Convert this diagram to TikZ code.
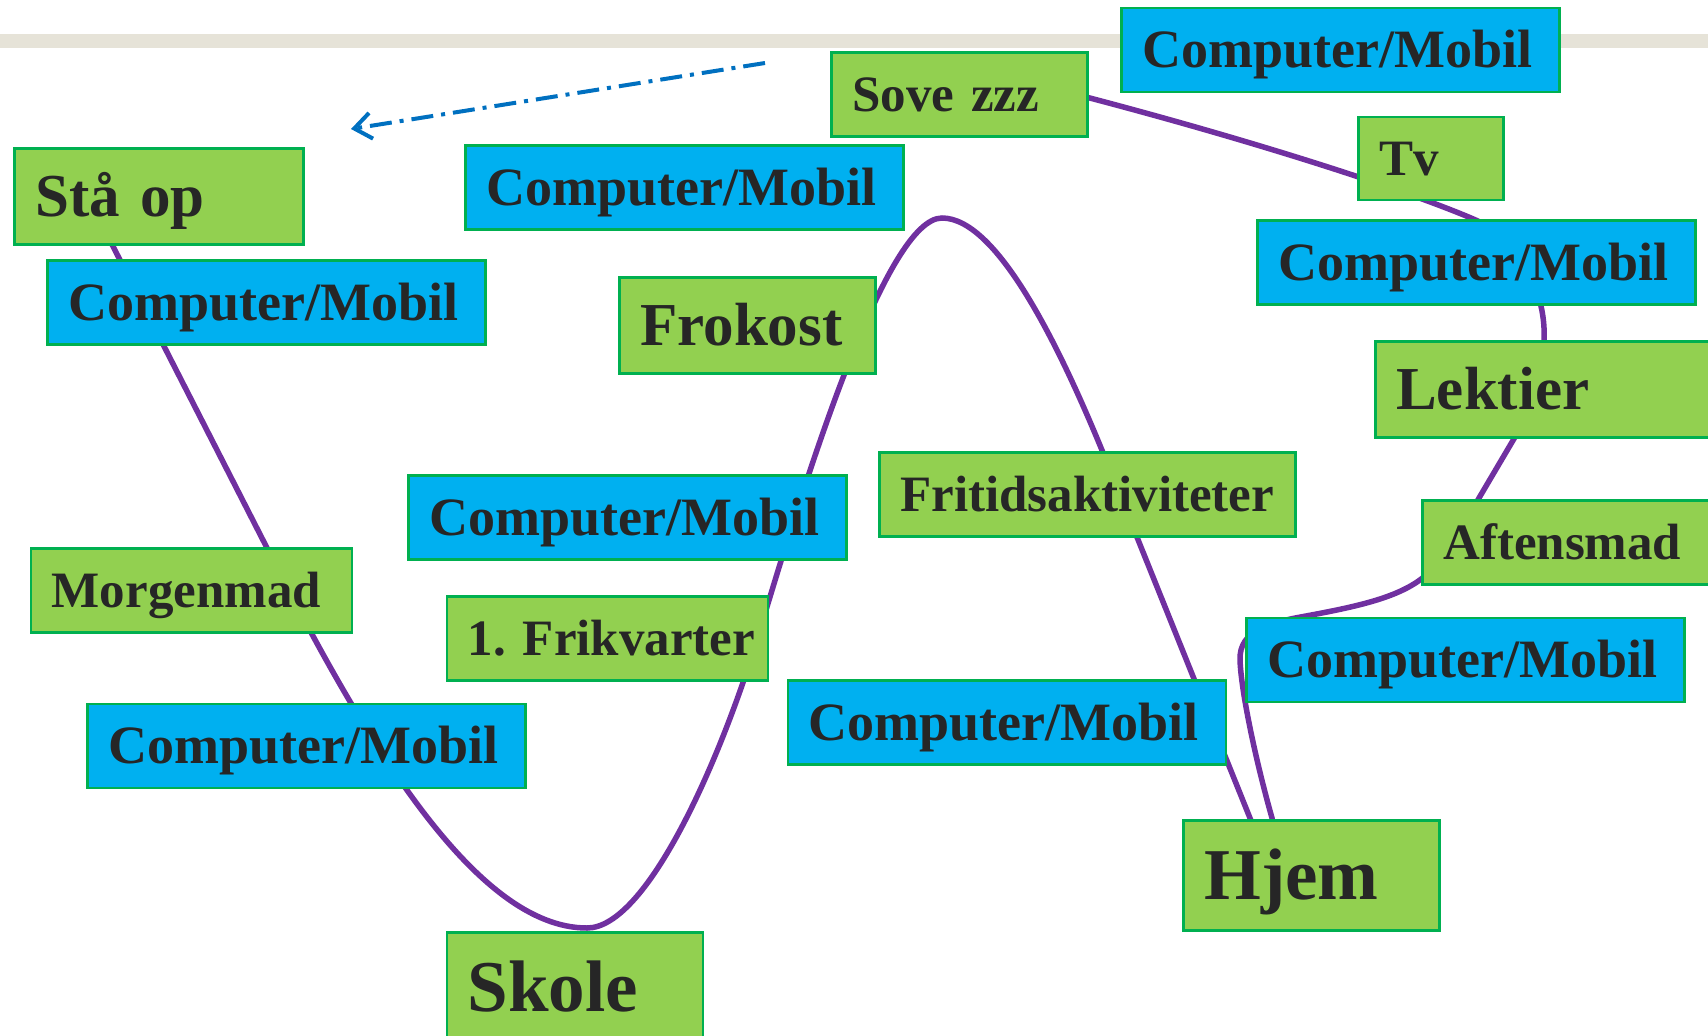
\documentclass[tikz,border=0pt]{standalone}
\usepackage{fontspec}
\setmainfont{Liberation Serif}
\usetikzlibrary{arrows.meta}
\frenchspacing
\definecolor{gfill}{HTML}{92D050}
\definecolor{bfill}{HTML}{00B0F0}
\definecolor{edgec}{HTML}{00B050}
\definecolor{curvec}{HTML}{7030A0}
\definecolor{arrc}{HTML}{0070C0}
\definecolor{bandc}{HTML}{E6E3D8}
\definecolor{ink}{HTML}{262626}
\pgfdeclarelayer{bg}
\pgfsetlayers{bg,main}
\tikzset{
  boxbase/.style={draw=edgec, line width=2.5pt, anchor=north west, inner xsep=21pt, inner ysep=0pt, align=left, text=ink},
  smalltxt/.style={font=\fontsize{51}{58}\selectfont\bfseries, text height=39pt, text depth=5pt},
  bluetxt/.style={font=\fontsize{54}{60}\selectfont\bfseries, text height=41pt, text depth=5pt},
  midtxt/.style={font=\fontsize{61}{70}\selectfont\bfseries, text height=45pt, text depth=5pt},
  bigtxt/.style={font=\fontsize{73}{80}\selectfont\bfseries, text height=53pt, text depth=5pt},
  gbox/.style 2 args={boxbase, fill=gfill, text width=#1, minimum height=#2},
  bbox/.style={boxbase, fill=bfill, text width=396pt, minimum height=84pt, bluetxt},
  timeline/.style={draw=curvec, line width=5.5pt, line cap=round},
  backarrow/.style={draw=arrc, line width=4pt, dash pattern=on 22pt off 8pt on 4pt off 8pt, -{Straight Barb[length=17pt,width=26pt]}}
}
\begin{document}
\begin{tikzpicture}[x=1pt,y=-1pt]
\useasboundingbox (0,0) rectangle (1708,1036);
\clip (0,0) rectangle (1708,1036);

% nodes
\path
  node[bbox] (cm1) at (1120,6.5) {Computer/Mobil}
  node[gbox={214pt}{84pt}, smalltxt] (sove) at (830,51) {Sove zzz}
  node[gbox={247pt}{96pt}, midtxt] (sta) at (13,147) {Stå op}
  node[bbox] (cm2) at (464,144) {Computer/Mobil}
  node[gbox={103pt}{83pt}, smalltxt] (tv) at (1357,115.5) {Tv}
  node[bbox] (cm3) at (1256,219) {Computer/Mobil}
  node[bbox] (cm4) at (46,259) {Computer/Mobil}
  node[gbox={214pt}{96pt}, midtxt] (frokost) at (618,276) {Frokost}
  node[gbox={358pt}{96pt}, midtxt] (lektier) at (1374,340) {Lektier}
  node[bbox] (cm5) at (407,474) {Computer/Mobil}
  node[gbox={374pt}{84pt}, smalltxt] (fritid) at (878,451) {Fritidsaktiviteter}
  node[gbox={358pt}{84pt}, smalltxt] (aften) at (1421,499) {Aftensmad}
  node[gbox={279pt}{84pt}, smalltxt] (morgen) at (29.5,547) {Morgenmad}
  node[gbox={279pt}{84pt}, smalltxt] (frik) at (445.5,595) {\mbox{1. Frikvarter}}
  node[bbox] (cm6) at (1245,616.5) {Computer/Mobil}
  node[bbox] (cm7) at (786.5,679) {Computer/Mobil}
  node[bbox] (cm8) at (86,702.5) {Computer/Mobil}
  node[gbox={214pt}{110pt}, bigtxt] (hjem) at (1182,819) {Hjem}
  node[gbox={214pt}{110pt}, bigtxt] (skole) at (445.5,931) {Skole};

\coordinate (arrS) at (765,63);
\coordinate (arrE) at (351,129);

\begin{pgfonlayer}{bg}
  \fill[bandc] (0,34) rectangle (1708,47.5);
  \draw[backarrow] (arrS) -- (arrE);
  \draw[timeline] ([xshift=96pt,yshift=7pt]sta.south west) -- (266,546)
    .. controls (367,746) and (477,928) .. (587,928)
    .. controls (647,928) and (721,760) .. (760,630)
    .. controls (805,480) and (886,218) .. (942,218)
    .. controls (998,218) and (1062,350) .. (1110,470)
    -- (1258,838)
    .. controls (1264,852) and (1278,846) .. (1272,818)
    .. controls (1255,758) and (1241,690) .. (1240,660)
    .. controls (1239,630) and (1270,622.5) .. (1306,616)
    .. controls (1360,606) and (1400,597) .. (1425,576)
    .. controls (1455,550) and (1463,526) .. (1479,498)
    -- (1515,437)
    .. controls (1535,400) and (1544,370) .. (1544,338)
    .. controls (1546,300) and (1525,240) .. (1471,218)
    .. controls (1400,188) and (1250,140) .. (1086,97)
    -- ([xshift=-46pt,yshift=9pt]sove.east);
\end{pgfonlayer}
\end{tikzpicture}
\end{document}
